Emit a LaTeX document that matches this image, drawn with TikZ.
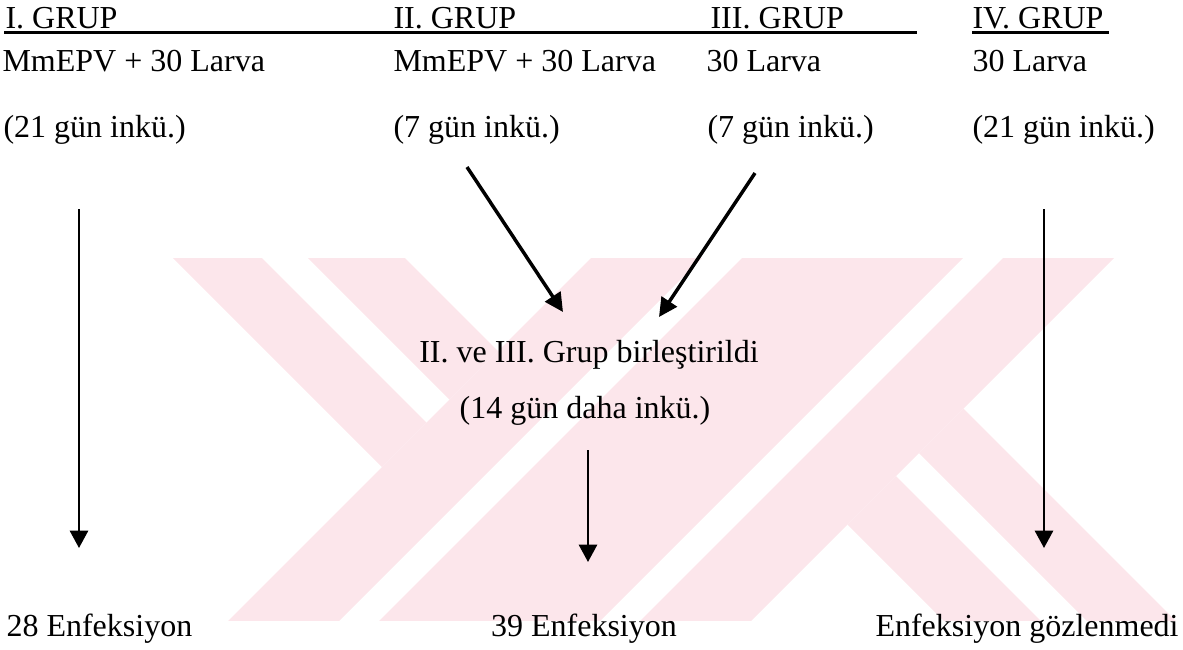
\documentclass[tikz,border=0pt]{standalone}
\usepackage{fontspec}
\setmainfont{Liberation Serif}
\usetikzlibrary{arrows.meta, positioning, calc}
\definecolor{wmpink}{RGB}{252,230,235}

\begin{document}
\begin{tikzpicture}[
    x=0.375pt, y=-0.375pt,
    font=\fontsize{12}{14}\selectfont,
    % styles
    label_text/.style={
        inner sep=0pt, anchor=base west
    },
    mid_text/.style={
        inner sep=0pt, anchor=base
    },
    uline/.style={
        draw=black, line width=0.8pt
    },
    down_arrow/.style={
        -{Triangle[length=6.5pt, width=6.8pt]}, line width=0.9pt
    },
    diag_arrow/.style={
        -{Triangle[length=7pt, width=6.8pt]}, line width=1.3pt
    },
    wmark/.style={
        fill=wmpink, draw=none
    }
]
    \useasboundingbox (0,0) rectangle (1183,649);

    % --- 0. WATERMARK (background) ---
    \begin{scope}
        \clip (0,258) rectangle (1183,620);
        % middle band
        \foreach \ua/\ub in {849/960, 1000/1221, 1261/1372}
            \fill[wmark] ({(\ua-600)/2},{(\ua+600)/2}) -- ({(\ub-600)/2},{(\ub+600)/2})
                -- ({(\ub+900)/2},{(\ub-900)/2}) -- ({(\ua+900)/2},{(\ua-900)/2}) -- cycle;
        % left stripes
        \foreach \va/\vb in {-85/4, 50/147}
            \fill[wmark] ({(300+\va)/2},{(300-\va)/2}) -- ({(849+\va)/2},{(849-\va)/2})
                -- ({(849+\vb)/2},{(849-\vb)/2}) -- ({(300+\vb)/2},{(300-\vb)/2}) -- cycle;
        % right stripes
        \foreach \va/\vb in {323/420, 466/555}
            \fill[wmark] ({(1372+\va)/2},{(1372-\va)/2}) -- ({(2000+\va)/2},{(2000-\va)/2})
                -- ({(2000+\vb)/2},{(2000-\vb)/2}) -- ({(1372+\vb)/2},{(1372-\vb)/2}) -- cycle;
    \end{scope}

    % --- 1. GROUP HEADERS ---
    \node[label_text] (grp1_title) at (5,28)   {I. GRUP};
    \node[label_text] (grp2_title) at (393,28) {II. GRUP};
    \node[label_text] (grp3_title) at (710,28) {III. GRUP};
    \node[label_text] (grp4_title) at (972,28) {IV. GRUP};

    % underlines
    \draw[uline] (4,32.5) -- (917,32.5);
    \draw[uline] (972,32.5) -- (1109,32.5);

    % --- 2. GROUP CONTENTS ---
    \node[label_text] (grp1_mix) at (2,71)   {MmEPV + 30 Larva};
    \node[label_text] (grp2_mix) at (393,71) {MmEPV + 30 Larva};
    \node[label_text] (grp3_mix) at (706,71) {30 Larva};
    \node[label_text] (grp4_mix) at (972,71) {30 Larva};

    \node[label_text] (grp1_inc) at (3,137)   {(21 gün inkü.)};
    \node[label_text] (grp2_inc) at (393,137) {(7 gün inkü.)};
    \node[label_text] (grp3_inc) at (707,137) {(7 gün inkü.)};
    \node[label_text] (grp4_inc) at (972,137) {(21 gün inkü.)};

    % --- 3. MERGED GROUP ---
    \node[mid_text] (merged)     at (589,362) {II. ve III. Grup birleştirildi};
    \node[mid_text] (merged_inc) at (585,418) {(14 gün daha inkü.)};

    % --- 4. RESULTS ---
    \node[label_text] (res1)  at (6,636)   {28 Enfeksiyon};
    \node[mid_text]   (res23) at (584,636) {39 Enfeksiyon};
    \node[label_text] (res4)  at (875,636) {Enfeksiyon gözlenmedi};

    % arrow end points
    \coordinate (grp1_out) at (79,209);
    \coordinate (res1_in)  at (79,548);
    \coordinate (grp2_out) at (467,167);
    \coordinate (grp3_out) at (755,173);
    \coordinate (merge_l)  at (563,312);
    \coordinate (merge_r)  at (659,317);
    \coordinate (merged_out) at (588,450);
    \coordinate (res23_in) at (588,562);
    \coordinate (grp4_out) at (1044,209);
    \coordinate (res4_in)  at (1044,548);

    \draw[down_arrow] (grp1_out) -- (res1_in);
    \draw[diag_arrow] (grp2_out) -- (merge_l);
    \draw[diag_arrow] (grp3_out) -- (merge_r);
    \draw[down_arrow] (merged_out) -- (res23_in);
    \draw[down_arrow] (grp4_out) -- (res4_in);

\end{tikzpicture}
\end{document}
